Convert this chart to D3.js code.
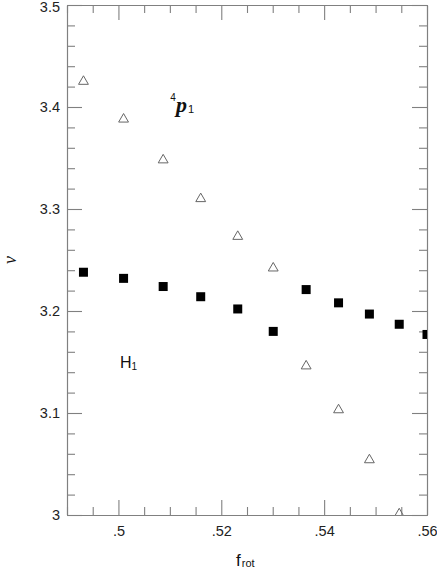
<!DOCTYPE html>
<html>
<head>
<meta charset="utf-8">
<script src="https://cdn.jsdelivr.net/npm/d3@7"></script>
<style>
  body { margin: 0; background: #fff; }
  svg { display: block; }
  .tick text { font-family: "Liberation Sans", Arial, sans-serif; font-size: 14.5px; fill: #222; }
  .axis path, .axis line { stroke: #808080; stroke-width: 1.1; }
</style>
</head>
<body>
<svg id="chart" width="437" height="569"></svg>
<script>
// f_rot positions of the computed states
var fRot = [0.4932, 0.5010, 0.5087, 0.5160, 0.5232, 0.5301, 0.5365, 0.5428, 0.5488, 0.5546, 0.5600];
// 4p1 series (open triangles)
var p4Values = [3.426, 3.389, 3.349, 3.311, 3.274, 3.243, 3.147, 3.104, 3.055, 3.002];
// H1 series (filled squares)
var h1Values = [3.238, 3.232, 3.224, 3.214, 3.202, 3.180, 3.221, 3.208, 3.197, 3.187, 3.177];

var xMajor = [0.50, 0.52, 0.54, 0.56];
var xMajorLabels = [".5", ".52", ".54", ".56"];
var yMajor = [3.0, 3.1, 3.2, 3.3, 3.4, 3.5];
var yMajorLabels = ["3", "3.1", "3.2", "3.3", "3.4", "3.5"];

var svg = d3.select("#chart");
var margin = {top: 5, right: 10, bottom: 54, left: 67};
var width = +svg.attr("width") - margin.left - margin.right;
var height = +svg.attr("height") - margin.top - margin.bottom;

var x = d3.scaleLinear().domain([0.49, 0.56]).range([0, width]);
var y = d3.scaleLinear().domain([3.0, 3.5]).range([height, 0]);

// minor ticks: every .005 on x, every .02 on y
var xMinor = d3.range(0, 15).map(function (i) { return +(0.49 + i * 0.005).toFixed(4); })
    .filter(function (v) { return xMajor.indexOf(v) < 0; });
var yMinor = d3.range(0, 26).map(function (i) { return +(3.0 + i * 0.02).toFixed(3); })
    .filter(function (v) { return Math.abs(v - v.toFixed(1)) > 1e-6; });

var g = svg.append("g").attr("transform", "translate(" + margin.left + "," + margin.top + ")");

function xLabel(d) { return xMajorLabels[xMajor.indexOf(d)]; }
function yLabel(d) { return yMajorLabels[yMajor.indexOf(d)]; }

// bottom
g.append("g").attr("class", "axis").attr("transform", "translate(0," + height + ")")
    .call(d3.axisBottom(x).tickValues(xMinor).tickSize(-8).tickSizeOuter(0).tickFormat(""));
g.append("g").attr("class", "axis").attr("transform", "translate(0," + height + ")")
    .call(d3.axisBottom(x).tickValues(xMajor).tickSize(-15).tickSizeOuter(0).tickPadding(11).tickFormat(xLabel));
// top
g.append("g").attr("class", "axis")
    .call(d3.axisTop(x).tickValues(xMinor).tickSize(-8).tickSizeOuter(0).tickFormat(""));
g.append("g").attr("class", "axis")
    .call(d3.axisTop(x).tickValues(xMajor).tickSize(-15).tickSizeOuter(0).tickFormat(""));
// left
g.append("g").attr("class", "axis")
    .call(d3.axisLeft(y).tickValues(yMinor).tickSize(-8).tickSizeOuter(0).tickFormat(""));
g.append("g").attr("class", "axis")
    .call(d3.axisLeft(y).tickValues(yMajor).tickSize(-15).tickSizeOuter(0).tickPadding(7).tickFormat(yLabel));
// right
g.append("g").attr("class", "axis").attr("transform", "translate(" + width + ",0)")
    .call(d3.axisRight(y).tickValues(yMinor).tickSize(-8).tickSizeOuter(0).tickFormat(""));
g.append("g").attr("class", "axis").attr("transform", "translate(" + width + ",0)")
    .call(d3.axisRight(y).tickValues(yMajor).tickSize(-15).tickSizeOuter(0).tickFormat(""));

// nudge the top label down a hair so it is not clipped by the window edge
g.selectAll(".tick text").filter(function (d) { return d === 3.5; }).attr("dy", "0.42em");

svg.append("clipPath").attr("id", "plotclip")
  .append("rect").attr("width", width).attr("height", height);

var marks = g.append("g").attr("clip-path", "url(#plotclip)");

var tri = d3.symbol().type(d3.symbolTriangle).size(42);
marks.selectAll(".tri")
    .data(p4Values)
    .enter()
    .append("path")
    .attr("class", "tri")
    .attr("d", tri)
    .attr("transform", function (d, i) { return "translate(" + x(fRot[i]) + "," + (y(d) + 1) + ")"; })
    .attr("fill", "none")
    .attr("stroke", "#666")
    .attr("stroke-width", 1);

marks.selectAll(".sq")
    .data(h1Values)
    .enter()
    .append("rect")
    .attr("class", "sq")
    .attr("x", function (d, i) { return x(fRot[i]) - 4.5; })
    .attr("y", function (d) { return y(d) - 4.5; })
    .attr("width", 9)
    .attr("height", 9)
    .attr("fill", "#000");

// series labels
var p4 = g.append("text")
    .attr("x", x(0.5101))
    .attr("y", y(3.4055))
    .attr("fill", "#111");
p4.append("tspan").attr("font-family", "Liberation Sans, Arial, sans-serif").attr("font-size", 10)
    .text("4");
p4.append("tspan").attr("font-family", "Liberation Serif, Times New Roman, serif")
    .attr("font-style", "italic").attr("font-weight", "bold").attr("font-size", 22)
    .attr("dx", 0).attr("dy", 11).text("p");
p4.append("tspan").attr("font-family", "Liberation Sans, Arial, sans-serif").attr("font-size", 11)
    .attr("dx", 1).attr("dy", 1).text("1");

var h1 = g.append("text")
    .attr("x", x(0.5003))
    .attr("y", y(3.1444))
    .attr("fill", "#111")
    .attr("font-family", "Liberation Sans, Arial, sans-serif");
h1.append("tspan").attr("font-size", 16).text("H");
h1.append("tspan").attr("font-size", 10).attr("dy", 2).text("1");

// axis titles
var xt = svg.append("text")
    .attr("x", 236)
    .attr("y", 566)
    .attr("fill", "#111")
    .attr("font-family", "Liberation Sans, Arial, sans-serif");
xt.append("tspan").attr("font-size", 17).text("f");
xt.append("tspan").attr("font-size", 11).attr("dx", 1).attr("dy", 1).text("rot");

svg.append("text")
    .attr("transform", "translate(16,260) rotate(-90)")
    .attr("text-anchor", "middle")
    .attr("font-family", "Liberation Serif, Times New Roman, serif")
    .attr("font-style", "italic")
    .attr("font-size", 18)
    .attr("fill", "#111")
    .text("ν");
</script>
</body>
</html>
